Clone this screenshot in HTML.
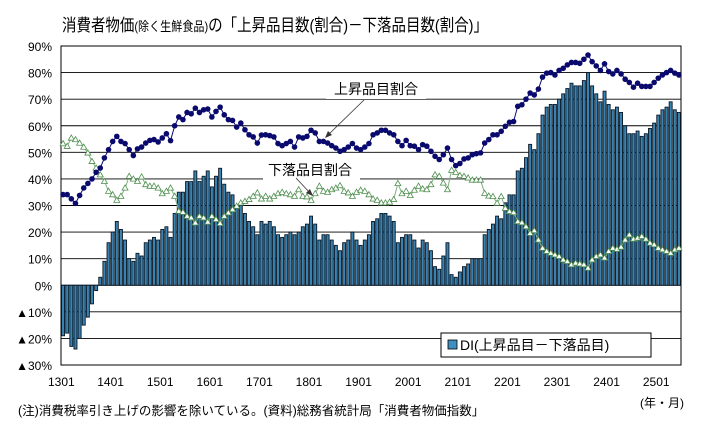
<!DOCTYPE html>
<html><head><meta charset="utf-8">
<style>
html,body{margin:0;padding:0;background:#fff;}
svg{display:block;font-family:"Liberation Sans","Noto Sans CJK JP",sans-serif;}
</style></head>
<body>
<svg id="chart" width="706" height="429" viewBox="0 0 706 429" xmlns="http://www.w3.org/2000/svg">
  <text x="62" y="31" textLength="426" lengthAdjust="spacingAndGlyphs" font-size="17" fill="#000">消費者物価<tspan font-size="13">(除く生鮮食品)</tspan>の「上昇品目数(割合)－下落品目数(割合)」</text>
  <g id="grid"></g>
  <g id="yticks"></g>
  <g id="xticks"></g>
  <g id="bars"></g>
  <g id="downSeries"></g>
  <g id="upSeries"></g>
  <g>
    <rect x="326" y="77" width="100" height="22" fill="#fff"/>
    <text x="376" y="94" text-anchor="middle" font-size="14" fill="#000">上昇品目割合</text>
    <line x1="364" y1="100" x2="327" y2="136" stroke="#333" stroke-width="0.8"/>
    <polygon points="325,138 328,131 332,135" fill="#333"/>
  </g>
  <g>
    <rect x="263" y="158" width="97" height="22" fill="#fff"/>
    <text x="310" y="175" text-anchor="middle" font-size="14" fill="#000">下落品目割合</text>
    <line x1="296" y1="178" x2="311" y2="194" stroke="#333" stroke-width="0.8"/>
    <polygon points="313,196 306,193 310,189" fill="#333"/>
  </g>
  <g>
    <rect x="441" y="333" width="210" height="24" fill="#fff" stroke="#000" stroke-width="1"/>
    <rect x="448" y="340" width="9" height="9" fill="#3e8fc0" stroke="#000" stroke-width="0.8"/>
    <text x="460" y="350" font-size="14" fill="#000">DI(上昇品目－下落品目)</text>
  </g>
  <text x="18" y="415" font-size="12.5" fill="#000">(注)消費税率引き上げの影響を除いている。(資料)総務省統計局「消費者物価指数」</text>
  <text x="640" y="407" font-size="12" fill="#000">(年・月)</text>
</svg>
<script>
const xLabels = ["1301","1401","1501","1601","1701","1801","1901","2001","2101","2201","2301","2401","2501"];
const yTicks = [90,80,70,60,50,40,30,20,10,0,-10,-20,-30];
const upRatio = [34.1,34.1,32.5,30.8,33.8,36.6,38.3,40,42.5,44.1,47.9,51,54.1,56,54.1,53.3,51,48.8,51.3,52,53.5,54.5,54.8,53.9,55.4,57,54.4,60,63.3,62.3,65,64.5,66.6,65,66,66.3,63.3,65.4,67,64.1,62.3,62,59.5,61,58.5,56.6,55.8,53.5,56.5,56.6,56.3,55.8,
53.3,52.5,53.3,54.1,52,55.8,55.4,56,58.3,57.3,54.1,54.1,53.5,52.5,51.6,50.4,51,52,53.3,51.6,51,52,53.3,56.6,57.3,58.3,58.3,57.3,56.6,54.1,52.5,54.5,52.5,52.3,51,52.9,52.3,50.4,48.5,47.3,49.1,51.6,47.3,45,45.8,47.5,47.9,49.1,49.5,49.8,
53.5,54.8,56.6,56.6,57.9,59.8,61.3,61.6,67.3,67.9,70,72.3,71.6,73.8,78.3,79.8,80,79.1,80.8,81.6,82.9,83.8,83.8,83.5,85,86.6,84.1,82.5,80.8,83.3,80.4,79.5,80.8,79.5,77.5,76.3,74.5,76,74.8,74.8,74.8,76.3,77.9,79.1,80,80.8,79.8,79.1];
const downRatio = [53.3,52.3,55.4,54.8,53.5,52,49.8,46.6,44.1,41.6,39.1,35.4,34.1,32,33.5,36.6,41,40,39.1,40.8,37.9,37.3,37.3,36.6,34.5,35.4,36.6,33.5,27.9,27.5,26,25.4,23.5,26,25.4,23.8,26,24.8,23.3,26,27.3,28.5,29.8,31,31.6,32.3,33.5,34.8,32.5,33.5,32.5,33.5,
34.5,35,34.5,34.1,33.5,36,33.5,33.3,32,34.5,37.3,35.4,35,36,36.6,37.5,35.4,34.8,33.5,35,35.8,35.4,34.1,32.5,32,31,31,31.3,32.3,38.3,34.5,35.4,33.8,35.8,37.3,36.3,36,37.9,41.6,41,38.5,36,43.3,42.5,41.3,41,40.4,39.6,39.6,39.6,
34.6,33.6,33.4,30.9,33.4,29,27.8,27.4,24,23.6,22.1,19.6,20.6,17.1,14,12.8,12.1,11.5,10.9,9.6,9,7.8,8.4,8.1,7.8,6.5,9.6,10.9,11.5,10.3,12.8,14,13.6,14.4,17.1,19,17.4,17.8,18.4,17.4,15.9,15.3,14,13.4,12.8,12.1,13.4,14];
const diValues = [-19,-18,-23,-24,-20,-15,-12,-7,-2,3,9,16,20,24,21,17,10,9,12,11,16,17,18,17,21,22,18,27,35,35,39,39,43,39,41,43,37,41,44,38,35,34,30,30,27,24,22,19,24,23,24,22,
19,18,19,20,19,20,22,23,26,23,17,19,19,17,15,13,16,17,20,17,15,17,19,24,25,27,27,26,24,16,18,19,19,17,14,17,16,13,7,6,11,16,4,3,5,7,8,10,10,10,
19,21,23,26,25,31,34,34,43,44,48,53,51,57,64,67,68,68,70,72,74,76,75,75,77,80,75,72,69,73,68,66,67,65,60,57,57,58,56,57,59,61,64,66,67,69,66,65];

const NS = "http://www.w3.org/2000/svg";
const L = 61, R = 681, T = 46, B = 365;
const N = upRatio.length;
const step = (R - L) / N;
const xPos = i => L + step * (i + 0.5);
const yPos = v => B - (v + 30) / 120 * (B - T);
function mk(tag, attrs, parent) {
  const e = document.createElementNS(NS, tag);
  for (const k in attrs) e.setAttribute(k, attrs[k]);
  parent.appendChild(e);
  return e;
}
const grid = document.getElementById('grid');
const yt = document.getElementById('yticks');
yTicks.forEach(v => {
  const y = yPos(v);
  const ln = mk('line', {x1: L, x2: R, y1: y, y2: y, stroke: '#000', 'stroke-width': 0.9}, grid);
  
  
  const t = mk('text', {x: 52, y: y + 5, 'text-anchor': 'end', 'font-size': 12, fill: '#000'}, yt);
  t.textContent = (v < 0 ? '▲' + (-v) : v) + '%';
  
  
});
const frame = mk('rect', {x: L, y: T, width: R - L, height: B - T, fill: 'none', stroke: '#000', 'stroke-width': 1}, grid);


const xt = document.getElementById('xticks');
xLabels.forEach((s, k) => {
  const t = mk('text', {x: L + step * 12 * k, y: 386, 'text-anchor': k === 0 ? 'start' : 'middle', 'font-size': 12, fill: '#000'}, xt);
  if (k === 0) t.setAttribute('x', L - 13);
  t.textContent = s;
  
  
});
const bars = document.getElementById('bars');
const y0 = yPos(0);
diValues.forEach((v, i) => {
  const y = yPos(v);
  const b = mk('rect', {x: xPos(i) - 1.5, y: Math.min(y, y0), width: 3.0, height: Math.max(0.8, Math.abs(y - y0)), fill: '#3a82b0', stroke: '#0b1826', 'stroke-width': 0.9}, bars);
  
  
});
function series(arr, g, color, lineColor, marker) {
  const pts = arr.map((v, i) => xPos(i).toFixed(1) + ',' + yPos(v).toFixed(1)).join(' ');
  const pl = mk('polyline', {points: pts, fill: 'none', stroke: lineColor, 'stroke-width': 1}, g);
  
  
  arr.forEach((v, i) => {
    const x = xPos(i), y = yPos(v);
    let m;
    if (marker === 'circle') {
      m = mk('circle', {cx: x, cy: y, r: 2.8, fill: color}, g);
    } else {
      m = mk('polygon', {points: `${x},${y - 3} ${x - 3},${y + 2.2} ${x + 3},${y + 2.2}`, fill: '#fff', stroke: color, 'stroke-width': 0.8}, g);
    }
    
    
  });
}
series(downRatio, document.getElementById('downSeries'), '#4f8f4f', '#7fb07f', 'tri');
series(upRatio, document.getElementById('upSeries'), '#0a0a6e', '#0a0a6e', 'circle');
</script>
</body></html>
